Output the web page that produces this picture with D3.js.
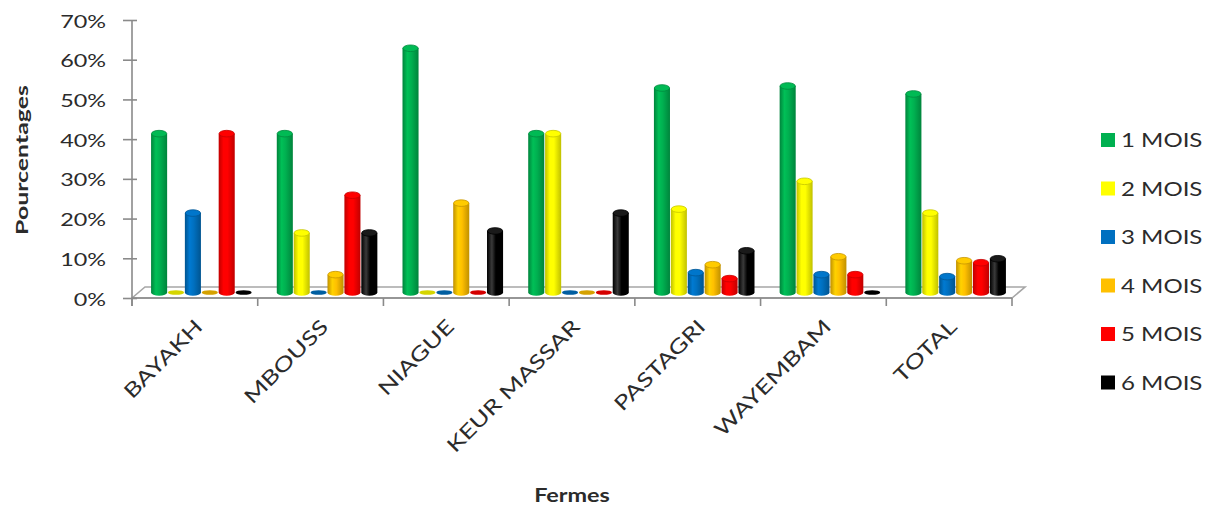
<!DOCTYPE html>
<html>
<head>
<meta charset="utf-8">
<script src="https://cdn.jsdelivr.net/npm/d3@7"></script>
<style>
  html, body { margin: 0; padding: 0; background: #fff; }
  svg { display: block; }
  text { font-family: Lato, "Open Sans", sans-serif; fill: #2b2b2b; }
</style>
</head>
<body>
<svg id="chart" width="1213" height="506"></svg>
<script>
// Farms (categories) and the six age series, in percent of animals
const fermes = ["BAYAKH", "MBOUSS", "NIAGUE", "KEUR MASSAR", "PASTAGRI", "WAYEMBAM", "TOTAL"];
const seriesNames = ["1 MOIS", "2 MOIS", "3 MOIS", "4 MOIS", "5 MOIS", "6 MOIS"];
const seriesColors = ["#00B050", "#FFFF00", "#0070C0", "#FFC000", "#FF0000", "#000000"];

const mois1 = [0.40, 0.40, 0.615, 0.40, 0.515, 0.52, 0.50];
const mois2 = [0.00, 0.15, 0.00, 0.40, 0.21, 0.28, 0.20];
const mois3 = [0.20, 0.00, 0.00, 0.00, 0.05, 0.045, 0.04];
const mois4 = [0.00, 0.045, 0.225, 0.00, 0.07, 0.09, 0.08];
const mois5 = [0.40, 0.245, 0.00, 0.00, 0.035, 0.045, 0.075];
const mois6 = [0.00, 0.15, 0.155, 0.20, 0.105, 0.00, 0.085];
const seriesValues = [mois1, mois2, mois3, mois4, mois5, mois6];

const yTicks = [0, 0.1, 0.2, 0.3, 0.4, 0.5, 0.6, 0.7];

const svg = d3.select("#chart");
const axisColor = "#8a8a8a";
const sx = 1.3;            // horizontal stretch applied to all text
const depthX = 6.5, depthY = 5.5;   // bars sit half-way into the floor depth
const floorX = 13, floorY = 11;     // full depth of the floor

const plotLeft = 132, plotRight = 1012, plotBottom = 298, plotTop = 20;

const y = d3.scaleLinear().domain([0, 0.7]).range([plotBottom, plotTop]);
const x0 = d3.scaleBand().domain(fermes).range([plotLeft, plotRight])
  .paddingInner(0.2).paddingOuter(0.1);
const x1 = d3.scaleBand().domain(seriesNames).range([0, x0.bandwidth()])
  .paddingInner(0.05);

// Floor of the 3D plot
svg.append("path")
  .attr("d", `M${plotLeft},${plotBottom} L${plotLeft + floorX},${plotBottom - floorY} L${plotRight + floorX},${plotBottom - floorY} L${plotRight},${plotBottom} Z`)
  .attr("fill", "#fff")
  .attr("stroke", "#a6a6a6")
  .attr("stroke-width", 1.6);

// Y axis
const yAxis = svg.append("g")
  .attr("transform", `translate(${plotLeft},0)`)
  .call(d3.axisLeft(y).tickValues(yTicks).tickFormat(d3.format(".0%")).tickSize(9));
yAxis.select(".domain").remove();
yAxis.selectAll(".tick line").attr("x1", 5).attr("stroke", axisColor).attr("stroke-width", 1.6);
yAxis.selectAll(".tick text")
  .attr("x", null).attr("dy", null)
  .attr("transform", `translate(-26,7) scale(${sx},1)`)
  .attr("text-anchor", "end")
  .style("font-size", "18px")
  .style("fill", "#2b2b2b");
svg.append("line")
  .attr("x1", plotLeft).attr("x2", plotLeft)
  .attr("y1", plotTop).attr("y2", plotBottom + 8)
  .attr("stroke", axisColor).attr("stroke-width", 1.6);

// X axis line and boundary ticks
svg.append("line")
  .attr("x1", plotLeft).attr("x2", plotRight)
  .attr("y1", plotBottom).attr("y2", plotBottom)
  .attr("stroke", axisColor).attr("stroke-width", 1.6);
const pad = x0.step() * x0.paddingOuter();
const boundaries = fermes.map(f => x0(f) - pad).concat([plotRight]);
svg.append("g").selectAll("line").data(boundaries).join("line")
  .attr("x1", d => d).attr("x2", d => d)
  .attr("y1", plotBottom).attr("y2", plotBottom + 8)
  .attr("stroke", axisColor).attr("stroke-width", 1.6);

// Category labels, rotated
svg.append("g").selectAll("text").data(fermes).join("text")
  .attr("transform", f => `translate(${x0(f) + x0.bandwidth() / 2 + 9},${328}) rotate(-45) scale(${sx},1)`)
  .attr("text-anchor", "end")
  .style("font-size", "20px")
  .style("fill", "#2b2b2b")
  .text(f => f);

// Gradients for cylinder shading
const defs = svg.append("defs");
seriesColors.forEach((c, i) => {
  const base = d3.color(c);
  const g = defs.append("linearGradient").attr("id", "cyl" + i)
    .attr("x1", "0%").attr("x2", "100%").attr("y1", "0%").attr("y2", "0%");
  const dark = i === 5 ? "#000" : base.darker(0.8).formatHex();
  const light = i === 5 ? "#3a3a3a" : base.brighter(0.25).formatHex();
  g.append("stop").attr("offset", "0%").attr("stop-color", dark);
  g.append("stop").attr("offset", "30%").attr("stop-color", light);
  g.append("stop").attr("offset", "55%").attr("stop-color", base.formatHex());
  g.append("stop").attr("offset", "100%").attr("stop-color", dark);
});

// Cylinders
const rx = x1.bandwidth() / 2;
const ry = 3.3;
const groups = svg.append("g").selectAll("g").data(fermes).join("g");
groups.each(function (f, fi) {
  const g = d3.select(this);
  seriesNames.forEach((s, si) => {
    const v = seriesValues[si][fi];
    const cx = x0(f) + x1(s) + rx + depthX;
    const baseY = y(0) - depthY;
    const color = d3.color(seriesColors[si]);
    const edge = si === 5 ? "#000" : color.darker(0.7).formatHex();
    if (v <= 0) {
      g.append("ellipse")
        .attr("cx", cx).attr("cy", baseY)
        .attr("rx", rx).attr("ry", 2.3)
        .attr("fill", si === 5 ? "#000" : color.darker(0.5).formatHex());
      return;
    }
    const topY = y(v) - depthY;
    g.append("path")
      .attr("d", `M${cx - rx},${topY} L${cx - rx},${baseY} A${rx},${ry} 0 0 0 ${cx + rx},${baseY} L${cx + rx},${topY} Z`)
      .attr("fill", `url(#cyl${si})`);
    g.append("ellipse")
      .attr("cx", cx).attr("cy", topY)
      .attr("rx", rx - 0.4).attr("ry", ry)
      .attr("fill", si === 5 ? "#1a1a1a" : color.brighter(0.15).formatHex())
      .attr("stroke", edge).attr("stroke-width", 0.8);
  });
});

// Axis titles
svg.append("text")
  .attr("transform", `translate(28,160) rotate(-90) scale(1.42,1)`)
  .attr("text-anchor", "middle")
  .style("font-size", "17.5px").style("font-weight", "bold")
  .text("Pourcentages");
svg.append("text")
  .attr("transform", `translate(${(plotLeft + plotRight) / 2},502) scale(${sx},1)`)
  .attr("text-anchor", "middle")
  .style("font-size", "18px").style("font-weight", "bold")
  .text("Fermes");

// Legend
const legend = svg.append("g").selectAll("g").data(seriesNames).join("g")
  .attr("transform", (d, i) => `translate(1101,${140 + i * 48.5})`);
legend.append("rect")
  .attr("x", 0).attr("y", -7).attr("width", 14).attr("height", 14)
  .attr("fill", (d, i) => seriesColors[i]);
legend.append("text")
  .attr("transform", `translate(20,7) scale(${sx},1)`)
  .style("font-size", "18.5px")
  .style("fill", "#2b2b2b")
  .text(d => d);
</script>
</body>
</html>
